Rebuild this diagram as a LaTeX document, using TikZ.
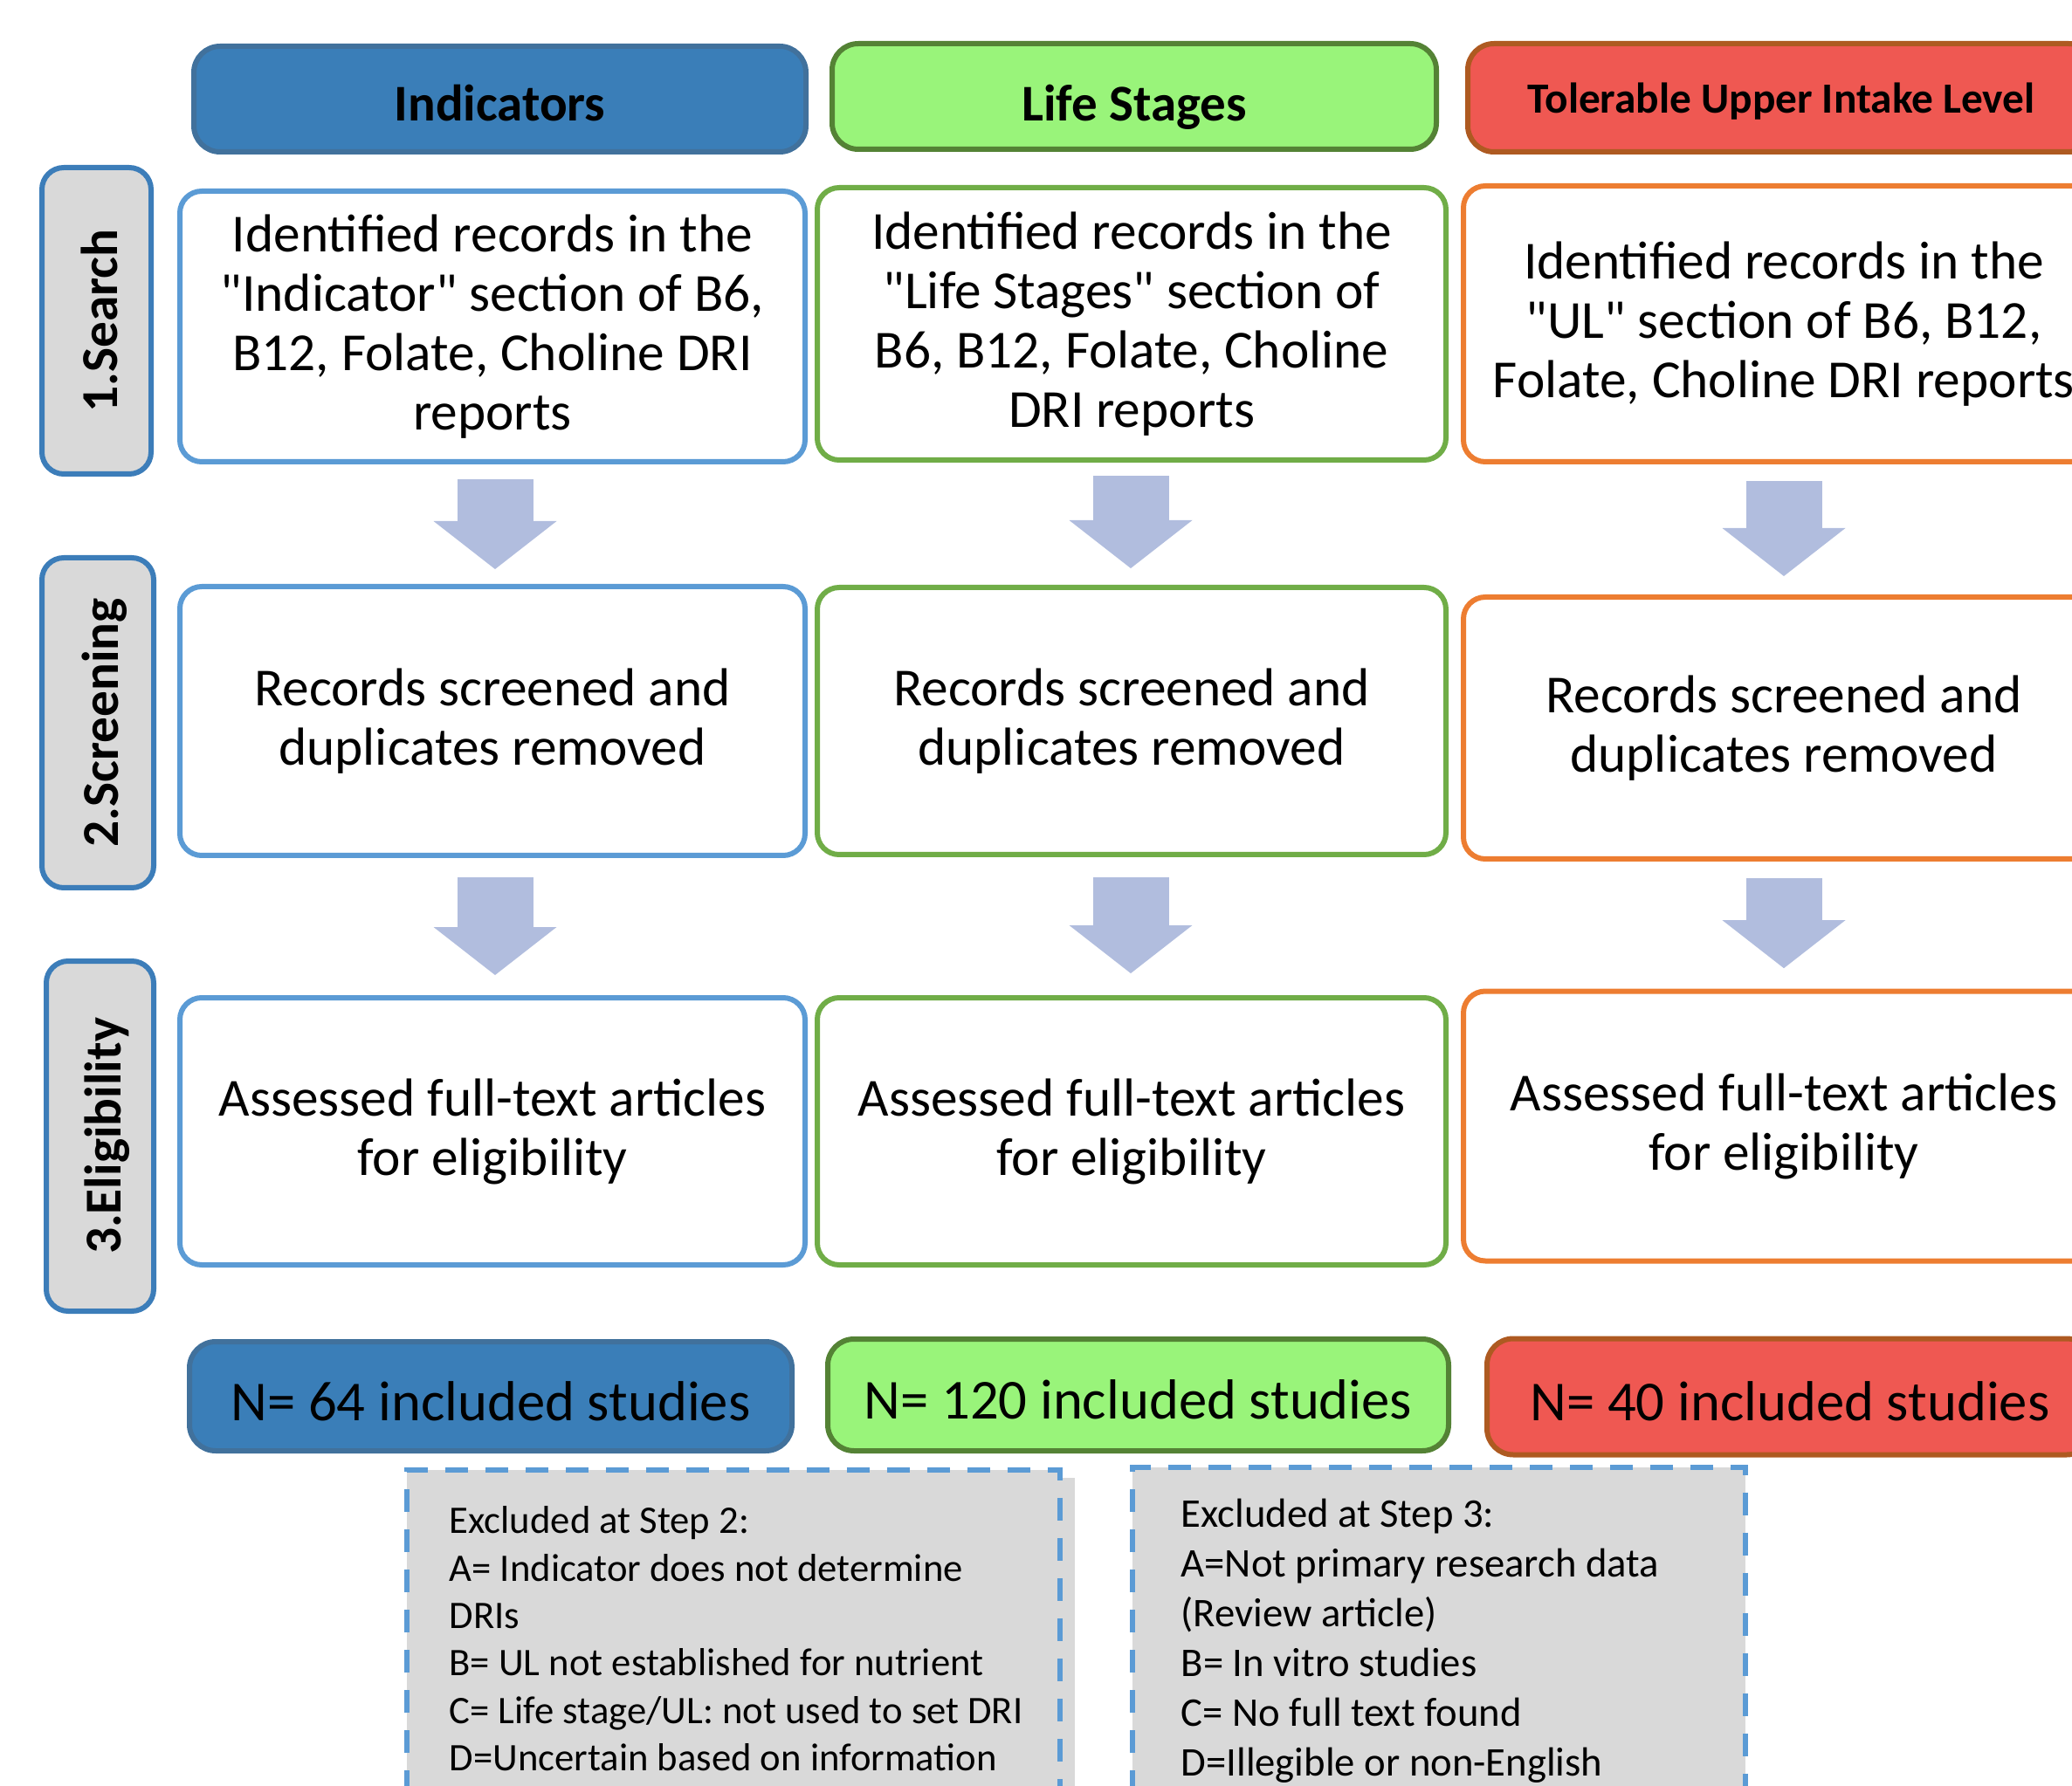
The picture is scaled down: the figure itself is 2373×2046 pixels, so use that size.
\documentclass[tikz,border=0pt]{standalone}
\usepackage{fontspec}
\setmainfont{Carlito}
\newfontfamily\qfont{Carlito}
\usetikzlibrary{arrows.meta,calc}
\definecolor{hdrblue}{RGB}{58,126,184}
\definecolor{hdrblueline}{RGB}{65,113,156}
\definecolor{hdrgreen}{RGB}{153,244,122}
\definecolor{hdrgreenline}{RGB}{84,130,53}
\definecolor{hdrred}{RGB}{239,88,82}
\definecolor{hdrredline}{RGB}{174,90,33}
\definecolor{colblue}{RGB}{91,155,213}
\definecolor{colgreen}{RGB}{112,173,71}
\definecolor{colorange}{RGB}{237,125,49}
\definecolor{lblline}{RGB}{60,125,185}
\definecolor{lblgray}{RGB}{217,217,217}
\definecolor{arrowcol}{RGB}{177,189,222}
\newcommand{\qt}{{\qfont\symbol{34}}}
\begin{document}
\begin{tikzpicture}[x=0.3pt,y=-0.3pt,
  hdr/.style={draw, rounded corners=9pt, line width=1.8pt, inner sep=0pt,
    text depth=0pt, font=\bfseries\fontsize{17.7pt}{20pt}\selectfont},
  contentbox/.style={draw, rounded corners=7.5pt, line width=1.8pt, fill=white,
    align=center, inner sep=0pt, font=\fontsize{18.4pt}{20.4pt}\selectfont},
  lbl/.style={draw=lblline, fill=lblgray, rounded corners=7.5pt, line width=1.8pt,
    rotate=90, inner sep=0pt, text height=14.2pt, text depth=0pt,
    font=\bfseries\fontsize{17.8pt}{20pt}\selectfont},
  nbox/.style={draw, rounded corners=9pt, line width=1.8pt, inner sep=0pt,
    text height=16.7pt, text depth=0pt, font=\fontsize{19.4pt}{22pt}\selectfont},
  blockarrow/.style={draw=arrowcol, line width=26.1pt,
    -{Triangle[length=16.5pt 0 0, width=42.3pt 0 0, line width=0pt 0 0]}},
  exbox/.style={draw=colblue, line width=1.8pt, dash pattern=on 7.8pt off 6pt},
  extext/.style={anchor=north west, align=left, inner sep=0pt}
]
\useasboundingbox (0,0) rectangle (2373,2046);
\clip (0,0) rectangle (2373,2046);

% headers
\node[hdr, fill=hdrblue, draw=hdrblueline, minimum width=210.3pt, minimum height=36.3pt,
  text height=15.2pt] (hI) at (572.5,113.5) {Indicators};
\node[hdr, fill=hdrgreen, draw=hdrgreenline, minimum width=207.6pt, minimum height=36.3pt,
  text height=16.6pt] (hL) at (1299,110.5) {Life Stages};
\node[hdr, fill=hdrred, draw=hdrredline, minimum width=215.4pt, minimum height=37.2pt,
  text height=10.7pt, font=\bfseries\fontsize{14.8pt}{17pt}\selectfont] (hU) at (2040,112) {Tolerable Upper Intake Level};

% row labels
\node[lbl, minimum width=105.3pt, minimum height=37.5pt] (l1) at (110.5,367.5) {1.Search};
\node[lbl, minimum width=113.4pt, minimum height=38.4pt] (l2) at (112,828) {2.Screening};
\node[lbl, minimum width=120.3pt, minimum height=36.9pt] (l3) at (114.5,1301.5) {3.Eligibility};

% row 1
\node[contentbox, draw=colblue, minimum width=214.8pt, minimum height=93pt] (b11) at (564,374)
  {Identified records in the\\\qt Indicator\qt{} section of B6,\\B12, Folate, Choline DRI\\reports};
\node[contentbox, draw=colgreen, minimum width=216pt, minimum height=93.6pt] (b12) at (1296,371)
  {Identified records in the\\\qt Life Stages\qt{} section of\\B6, B12, Folate, Choline\\DRI reports};
\node[contentbox, draw=colorange, minimum width=220.2pt, minimum height=94.8pt] (b13) at (2043,371)
  {Identified records in the\\\qt UL\qt{} section of B6, B12,\\Folate, Choline DRI reports};

% row 2
\node[contentbox, draw=colblue, minimum width=214.8pt, minimum height=92.4pt] (b21) at (564,826)
  {Records screened and\\duplicates removed};
\node[contentbox, draw=colgreen, minimum width=216pt, minimum height=91.8pt] (b22) at (1296,826)
  {Records screened and\\duplicates removed};
\node[contentbox, draw=colorange, minimum width=220.2pt, minimum height=90pt] (b23) at (2043,834)
  {Records screened and\\duplicates removed};

% row 3
\node[contentbox, draw=colblue, minimum width=214.8pt, minimum height=91.8pt] (b31) at (564,1296)
  {Assessed full-text articles\\for eligibility};
\node[contentbox, draw=colgreen, minimum width=216pt, minimum height=91.8pt] (b32) at (1296,1296)
  {Assessed full-text articles\\for eligibility};
\node[contentbox, draw=colorange, minimum width=220.2pt, minimum height=92.7pt] (b33) at (2043,1290)
  {Assessed full-text articles\\for eligibility};

% block arrows
\draw[blockarrow, shorten <=5.1pt, shorten >=5.1pt] ($(b11.south)+(3,0)$) -- ($(b21.north)+(3,0)$);
\draw[blockarrow, shorten <=4.5pt, shorten >=5.7pt] ($(b12.south)+(-1,0)$) -- ($(b22.north)+(-1,0)$);
\draw[blockarrow, shorten <=5.7pt, shorten >=6.3pt] (b13.south) -- (b23.north);
\draw[blockarrow, shorten <=6.6pt, shorten >=6.9pt] ($(b21.south)+(3,0)$) -- ($(b31.north)+(3,0)$);
\draw[blockarrow, shorten <=6.9pt, shorten >=7.5pt] ($(b22.south)+(-1,0)$) -- ($(b32.north)+(-1,0)$);
\draw[blockarrow, shorten <=5.7pt, shorten >=7pt] (b23.south) -- (b33.north);

% included studies
\node[nbox, fill=hdrblue, draw=hdrblueline, minimum width=207pt, minimum height=37.5pt] (n1) at (562,1599.5)
  {N= 64 included studies};
\node[nbox, fill=hdrgreen, draw=hdrgreenline, minimum width=213.3pt, minimum height=38.4pt] (n2) at (1303.5,1598)
  {N= 120 included studies};
\node[nbox, fill=hdrred, draw=hdrredline, minimum width=208.2pt, minimum height=39.9pt] (n3) at (2050,1600)
  {N= 40 included studies};

% exclusion boxes
\fill[lblgray] (466,1684) rectangle (1214,2100);
\fill[lblgray] (1214,1693) rectangle (1231,2100);
\draw[exbox] (466,2100) -- (466,1684) -- (1214,1684) -- (1214,2100);
\node[extext, font=\fontsize{13.4pt}{16.3pt}\selectfont] (ex1) at (514,1725)
  {Excluded at Step 2:\\A= Indicator does not determine\\DRIs\\B= UL not established for nutrient\\C= Life stage/UL: not used to set DRI\\D=Uncertain based on information};

\fill[lblgray] (1297,1681) rectangle (1999,2100);
\draw[exbox] (1297,2100) -- (1297,1681) -- (1999,1681) -- (1999,2100);
\node[extext, font=\fontsize{14pt}{17.1pt}\selectfont] (ex2) at (1352,1716)
  {Excluded at Step 3:\\A=Not primary research data\\(Review article)\\B= In vitro studies\\C= No full text found\\D=Illegible or non-English};
\end{tikzpicture}
\end{document}
